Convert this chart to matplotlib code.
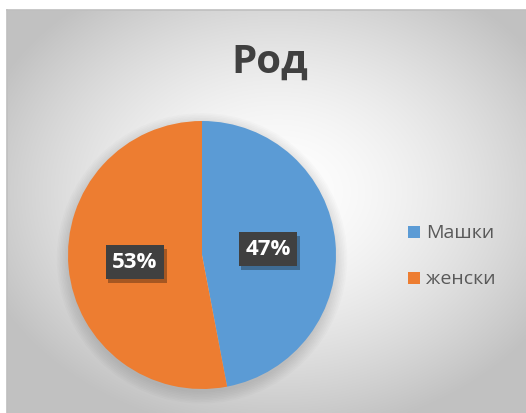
import numpy as np
import matplotlib
matplotlib.use("Agg")
import matplotlib.pyplot as plt
from matplotlib.patches import Rectangle, Circle
import matplotlib.patheffects as pe

title = "Род"
categories = ["Машки", "женски"]
values = [47, 53]
colors = ["#5B9BD5", "#ED7D31"]

W, H = 526, 414
fig = plt.figure(figsize=(W / 100, H / 100), dpi=100)
fig.patch.set_facecolor("white")

# background radial gradient for the chart area
bg = fig.add_axes([7 / W, 0, (W - 7) / W, (H - 11) / H])
bg.set_axis_off()
ny, nx = 200, 260
yy, xx = np.mgrid[0:ny, 0:nx]
cx, cy = nx * 0.52, ny * 0.45
r = np.sqrt(((xx - cx) / (nx * 0.6)) ** 2 + ((yy - cy) / (ny * 0.6)) ** 2)
r = np.clip(r, 0, 1)
val = 1.0 - 0.24 * r ** 1.6
img = np.dstack([val, val, val])
bg.imshow(img, extent=[0, 1, 0, 1], aspect="auto", interpolation="bilinear")
bg.set_xlim(0, 1)
bg.set_ylim(0, 1)
bg.plot([0, 1], [1, 1], color="#bfbfbf", lw=1.2, transform=bg.transAxes, clip_on=False)
bg.plot([0, 0], [0, 1], color="#bfbfbf", lw=1.2, transform=bg.transAxes, clip_on=False)

fig.text(270 / W, 1 - 62 / H, title, ha="center", va="center",
         fontsize=29, fontweight="bold", color="#404040", family="Open Sans")

# pie axes
cxp, cyp, rad = 202, 256, 134
ax = fig.add_axes([(cxp - rad) / W, (H - cyp - rad) / H, 2 * rad / W, 2 * rad / H])
ax.set_axis_off()
ax.patch.set_alpha(0)
for k in range(8):
    ax.add_patch(Circle((0.0, -0.025), 1.0 + 0.012 * k, fc="black", ec="none",
                        alpha=0.016, zorder=0, clip_on=False))
wedges, _ = ax.pie(values, colors=colors, startangle=90, counterclock=False,
                   radius=1.0, wedgeprops=dict(linewidth=0, zorder=1))
ax.set_xlim(-1, 1)
ax.set_ylim(-1, 1)

label_pos = [(268, 250), (135, 263)]
for v, (lx, ly) in zip(values, label_pos):
    x = (lx - cxp) / rad
    y = -(ly - cyp) / rad
    t = ax.text(x, y, f"{v}%", ha="center", va="center", fontsize=16,
                fontweight="bold", color="white", family="Open Sans", zorder=5,
                bbox=dict(boxstyle="square,pad=0.3", fc="#404040", ec="none"))
    t.get_bbox_patch().set_path_effects([
        pe.SimplePatchShadow(offset=(2, -3), shadow_rgbFace="black", alpha=0.3),
        pe.Normal()])

# legend
for i, (cat, col) in enumerate(zip(categories, colors)):
    ly = 233 + i * 46
    fig.patches.append(Rectangle((408 / W, 1 - (ly + 6) / H), 12 / W, 12 / H,
                                 transform=fig.transFigure, fc=col, ec="none"))
    fig.text(426 / W, 1 - ly / H, cat, ha="left", va="center", fontsize=14,
             color="#595959", family="Open Sans")

fig.savefig("out.png", dpi=100)
